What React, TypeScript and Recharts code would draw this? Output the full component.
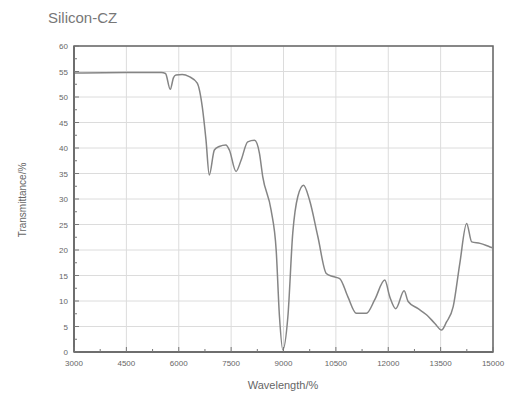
import { LineChart, Line, XAxis, YAxis, CartesianGrid, ReferenceArea } from 'recharts';

const wavelengths = [
    3000, 4500, 5500, 5620, 5756, 5850, 5920, 6100, 6300, 6530, 6675, 6780, 6875, 7020, 7160, 7350, 7450,
    7640, 7785, 7975, 8170, 8310, 8405, 8645, 8790, 8885, 8980, 9125, 9265, 9410, 9575, 9745, 9985, 10225,
    10415, 10610, 10845, 11085, 11375, 11610, 11900, 12045, 12215, 12455, 12570, 12855, 13095, 13335, 13525,
    13670, 13860, 14050, 14245, 14390, 14630, 14915, 15000,
];
const transmittance = [
    54.7, 54.8, 54.8, 54.6, 51.5, 53.8, 54.3, 54.4, 54.0, 52.7, 48, 41.6, 34.7, 39.6, 40.3, 40.6, 39.6,
    35.4, 37.6, 41.2, 41.5, 39.0, 34.4, 27.8, 20, 6.9, 0.4, 6.9, 23.3, 30.5, 32.7, 29.8, 22.6, 15.4,
    14.8, 14.4, 10.8, 7.6, 7.6, 10.2, 14.1, 10.8, 8.5, 12.0, 9.9, 8.5, 7.3, 5.6, 4.3,
    5.9, 8.9, 17.4, 25.2, 21.6, 21.3, 20.6, 20.4,
];

const xMajor = [3000, 4500, 6000, 7500, 9000, 10500, 12000, 13500, 15000];
const xMinor = [3000, 3750, 4500, 5250, 6000, 6750, 7500, 8250, 9000, 9750, 10500, 11250, 12000, 12750, 13500, 14250, 15000];
const yMajor = [0, 5, 10, 15, 20, 25, 30, 35, 40, 45, 50, 55, 60];
const yMinor = [0, 2.5, 5, 7.5, 10, 12.5, 15, 17.5, 20, 22.5, 25, 27.5, 30, 32.5, 35, 37.5, 40, 42.5, 45, 47.5, 50, 52.5, 55, 57.5, 60];

const data = wavelengths.map((w, i) => ({ w, t: transmittance[i] }));

const YTick = ({ x, y, payload }: any) => {
    const major = payload.value % 5 === 0;
    const ax = x + 4;
    return (
        <g>
            <line x1={ax} x2={ax + (major ? 5 : 3)} y1={y} y2={y} stroke="#777" strokeWidth={1} />
            {major && (
                <text x={x - 2} y={y + 3} textAnchor="end" fontSize={8} fill="#666" fontFamily="Arial, 'Liberation Sans', sans-serif">
                    {payload.value}
                </text>
            )}
        </g>
    );
};

const XTick = ({ x, y, payload }: any) => {
    const major = payload.value % 1500 === 0;
    const ay = y - 4;
    return (
        <g>
            <line x1={x} x2={x} y1={ay} y2={ay - (major ? 5 : 3)} stroke="#777" strokeWidth={1} />
            {major && (
                <text x={x} y={y + 10} textAnchor="middle" fontSize={8} fill="#666" fontFamily="Arial, 'Liberation Sans', sans-serif">
                    {payload.value}
                </text>
            )}
        </g>
    );
};

export default function App() {
    return (
        <div style={{ position: 'absolute', left: 0, top: 0, width: 506, height: 402, background: '#fff', fontFamily: "Arial, 'Liberation Sans', sans-serif" }}>
            <div style={{ position: 'absolute', left: 48, top: 9, fontSize: 15, color: '#777' }}>Silicon-CZ</div>
            <div
                style={{
                    position: 'absolute',
                    left: 22,
                    top: 200,
                    transform: 'translate(-50%, -50%) rotate(-90deg)',
                    fontSize: 10,
                    color: '#666',
                    whiteSpace: 'nowrap',
                }}
            >
                Transmittance/%
            </div>
            <div style={{ position: 'absolute', left: 283, top: 379, transform: 'translateX(-50%)', fontSize: 11, color: '#666' }}>
                Wavelength/%
            </div>
            <LineChart width={506} height={402} data={data} margin={{ top: 46, right: 13, left: 34, bottom: 20 }}>
                <CartesianGrid
                    stroke="#dcdcdc"
                    strokeWidth={1}
                    horizontalValues={yMajor}
                    verticalValues={xMajor}
                />
                <XAxis
                    dataKey="w"
                    type="number"
                    domain={[3000, 15000]}
                    ticks={xMinor}
                    interval={0}
                    tickLine={false}
                    tickSize={0}
                    tickMargin={4}
                    axisLine={{ stroke: '#666', strokeWidth: 1.5 }}
                    tick={<XTick />}
                    height={30}
                />
                <YAxis
                    type="number"
                    domain={[0, 60]}
                    ticks={yMinor}
                    interval={0}
                    tickLine={false}
                    tickSize={0}
                    tickMargin={4}
                    axisLine={{ stroke: '#666', strokeWidth: 1.5 }}
                    tick={<YTick />}
                    width={40}
                />
                <ReferenceArea x1={3000} x2={15000} y1={0} y2={60} fill="none" stroke="#666" strokeWidth={1.5} />
                <Line type="monotone" dataKey="t" stroke="#858585" strokeWidth={1.5} dot={false} isAnimationActive={false} />
            </LineChart>
        </div>
    );
}
